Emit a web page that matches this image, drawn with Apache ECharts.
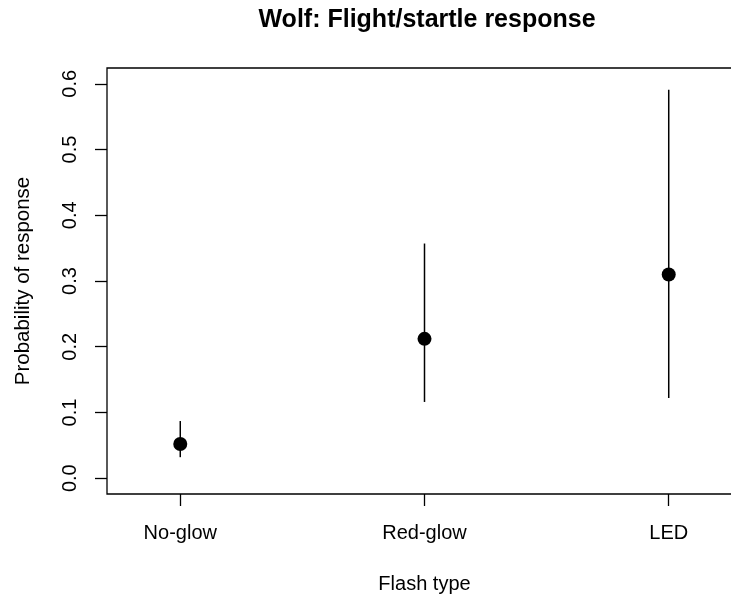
<!DOCTYPE html>
<html>
<head>
<meta charset="utf-8">
<script src="https://cdn.jsdelivr.net/npm/echarts@6/dist/echarts.min.js"></script>
<style>
html,body{margin:0;padding:0;background:#fff;}
#chart{width:731px;height:595px;}
</style>
</head>
<body>
<div id="chart"></div>
<script>
var categories = ['No-glow', 'Red-glow', 'LED'];
var estimates = [0.052, 0.212, 0.310];
var lowerCI = [0.032, 0.116, 0.122];
var upperCI = [0.087, 0.357, 0.591];
var yTicks = [0, 0.1, 0.2, 0.3, 0.4, 0.5, 0.6];
var xPositions = [1, 2, 3];

var pointData = xPositions.map(function (x, i) { return [x, estimates[i]]; });
var barData = xPositions.map(function (x, i) { return [x, lowerCI[i], upperCI[i]]; });

var FONT = '"Liberation Sans", Arial, sans-serif';
var chart = echarts.init(document.getElementById('chart'), null, {renderer: 'canvas'});
chart.setOption({
  backgroundColor: '#ffffff',
  animation: false,
  title: {
    text: 'Wolf: Flight/startle response',
    left: 422, top: 3, textAlign: 'center',
    textStyle: {fontFamily: FONT, fontWeight: 'bold', fontSize: 25, color: '#000'}
  },
  grid: {
    left: 107, top: 68, width: 635, height: 426,
    outerBoundsMode: 'none', containLabel: false,
    show: true, borderColor: '#000', borderWidth: 1.3, backgroundColor: '#fff'
  },
  xAxis: {
    type: 'value', min: 0.7, max: 3.3,
    name: 'Flash type', nameLocation: 'middle', nameGap: 80,
    nameTextStyle: {fontFamily: FONT, fontSize: 20, color: '#000'},
    splitLine: {show: false},
    axisLine: {show: false, onZero: false},
    axisTick: {show: true, length: 12, customValues: xPositions, lineStyle: {color: '#000', width: 1.3}},
    axisLabel: {
      customValues: xPositions, margin: 29,
      fontFamily: FONT, fontSize: 20, color: '#000',
      formatter: function (v) { return categories[Math.round(v) - 1]; }
    }
  },
  yAxis: {
    type: 'value', min: -0.024, max: 0.624,
    name: 'Probability of response', nameLocation: 'middle', nameGap: 73, nameRotate: 90,
    nameTextStyle: {fontFamily: FONT, fontSize: 20.5, color: '#000'},
    splitLine: {show: false},
    axisLine: {show: false, onZero: false},
    axisTick: {show: true, length: 12, customValues: yTicks, lineStyle: {color: '#000', width: 1.3}},
    axisLabel: {
      customValues: yTicks, rotate: 90, margin: 27,
      fontFamily: FONT, fontSize: 20, color: '#000',
      formatter: function (v) { return v.toFixed(1); }
    }
  },
  series: [
    {
      type: 'custom',
      data: barData,
      renderItem: function (params, api) {
        var x = api.value(0);
        var p1 = api.coord([x, api.value(1)]);
        var p2 = api.coord([x, api.value(2)]);
        return {
          type: 'line',
          shape: {x1: p1[0], y1: p1[1], x2: p2[0], y2: p2[1]},
          style: {stroke: '#000', lineWidth: 1.5}
        };
      },
      z: 2
    },
    {
      type: 'scatter',
      data: pointData,
      symbol: 'circle', symbolSize: 14,
      itemStyle: {color: '#000', opacity: 1},
      z: 3
    }
  ]
});
</script>
</body>
</html>
